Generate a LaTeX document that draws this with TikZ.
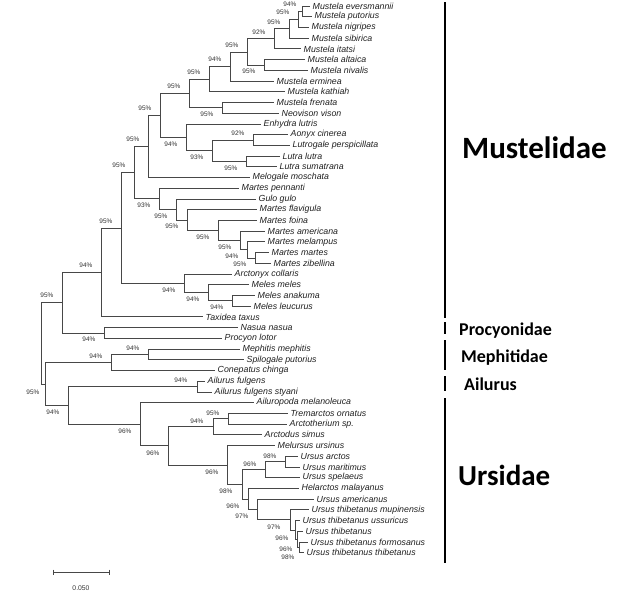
\documentclass[tikz,border=0pt]{standalone}
\usepackage{fontspec}
\setmainfont{Liberation Sans}
\newfontfamily\grpfont{Carlito}
\usetikzlibrary{calc}
\begin{document}
\begin{tikzpicture}[x=1pt,y=-1pt,
  br/.style={draw=black!72, line width=0.8pt},
  leaf/.style={anchor=west, inner xsep=2.5pt, inner ysep=0pt, font=\fontsize{8.8}{10}\selectfont\itshape, text=black!88},
  bs/.style={inner sep=0pt, font=\fontsize{6.5}{7}\selectfont, text=black!80},
  grp/.style={anchor=base west, inner sep=0pt, text=black},
  grpbar/.style={line width=2pt, draw=black}]
\useasboundingbox (0,0) rectangle (640,592);
% leaves
\foreach \i/\x/\nm in {
 1/310/Mustela eversmannii, 2/312/Mustela putorius, 3/309/Mustela nigripes,
 4/309/Mustela sibirica, 5/301/Mustela itatsi, 6/305/Mustela altaica,
 7/308/Mustela nivalis, 8/274/Mustela erminea, 9/285/Mustela kathiah,
 10/274/Mustela frenata, 11/279/Neovison vison, 12/261/Enhydra lutris,
 13/288/Aonyx cinerea, 14/290/Lutrogale perspicillata, 15/280/Lutra lutra,
 16/277/Lutra sumatrana, 17/250/Melogale moschata, 18/239/Martes pennanti,
 19/256/Gulo gulo, 20/257/Martes flavigula, 21/257/Martes foina,
 22/265/Martes americana, 23/265/Martes melampus, 24/269/Martes martes,
 25/271/Martes zibellina, 26/232/Arctonyx collaris, 27/249/Meles meles,
 28/255/Meles anakuma, 29/251/Meles leucurus, 30/203/Taxidea taxus,
 31/238/Nasua nasua, 32/222/Procyon lotor, 33/240/Mephitis mephitis,
 34/244/Spilogale putorius, 35/215/Conepatus chinga, 36/205/Ailurus fulgens,
 37/212/Ailurus fulgens styani, 38/254/Ailuropoda melanoleuca,
 39/288/Tremarctos ornatus, 40/287/Arctotherium sp., 41/262/Arctodus simus,
 42/275/Melursus ursinus, 43/298/Ursus arctos, 44/300/Ursus maritimus,
 45/300/Ursus spelaeus, 46/299/Helarctos malayanus, 47/314/Ursus americanus,
 48/309/Ursus thibetanus mupinensis, 49/300/Ursus thibetanus ussuricus,
 50/303/Ursus thibetanus, 51/308/Ursus thibetanus formosanus,
 52/304/Ursus thibetanus thibetanus}{
  \pgfmathsetmacro\yy{6+(\i-1)*10.72}
  \coordinate (l\i) at (\x,\yy);
  \node[leaf] (t\i) at (l\i) {\nm};
}
% internal nodes
\foreach \n/\x/\y in {
 M1/302/11.36, M2/298/19.40, M3/289/28.78, M4/274/38.83, B/264/64.96,
 M5/247/51.90, M6/230/66.47, M7/209/79.12, C/222/107.84, M8/189/93.48,
 E1/253/140.00, E2/246/161.44, E3/212/150.72, L/186/137.32, M9/160/115.40,
 M10/148/146.46, K1/255/257.92, K2/247/249.88, K3/240/240.50, K4/218/230.45,
 K5/187/220.07, K6/176/209.51, K7/159/198.88, M11/134/172.67,
 D1/232/300.80, D2/208/292.76, D3/184/283.38, M12/121/228.03, M13/101/272.45,
 P/104/332.96, N1/62/302.71, Ph1/148/354.40, Ph2/111/362.44, A/197/386.56,
 T/228/418.72, Us/213/426.76, AP/285/461.60, GA/265/469.64,
 TB4/299/547.36, TB3/297/539.32, TB2/295/529.94, TB/290/519.89,
 H2/257/509.51, GR/248/498.96, G/242/484.30, UB/227/464.91, UR/168/445.84,
 U0/140/424.24, Y/68/405.40, X/45/383.92, R/41/343.32}{
  \coordinate (\n) at (\x,\y);
}
% branches
\foreach \p/\a/\b in {
 M1/l1/l2, M2/M1/l3, M3/M2/l4, M4/M3/l5, B/l6/l7, M5/M4/B, M6/M5/l8,
 M7/M6/l9, C/l10/l11, M8/M7/C, E1/l13/l14, E2/l15/l16, E3/E1/E2, L/l12/E3,
 M9/M8/L, M10/M9/l17, K1/l24/l25, K2/l23/K1, K3/l22/K2, K4/l21/K3,
 K5/l20/K4, K6/l19/K5, K7/l18/K6, M11/M10/K7, D1/l28/l29, D2/l27/D1,
 D3/l26/D2, M12/M11/D3, M13/M12/l30, P/l31/l32, N1/M13/P, Ph1/l33/l34,
 Ph2/Ph1/l35, A/l36/l37, T/l39/l40, Us/T/l41, AP/l43/l44, GA/AP/l45,
 TB4/l51/l52, TB3/l50/TB4, TB2/l49/TB3, TB/l48/TB2, H2/l47/TB, GR/l46/H2,
 G/GA/GR, UB/l42/G, UR/Us/UB, U0/l38/UR, Y/A/U0, X/Ph2/Y, R/N1/X}{
  \draw[br] (\p) |- (\a);
  \draw[br] (\p) |- (\b);
}
% bootstrap values
\foreach \n/\dx/\dy/\v in {
 M1/-12/-7/94, M2/-15/-7/95, M3/-15/-7/95, M4/-15/-7/92, B/-15/6.5/95,
 M5/-15/-7/95, M6/-15/-7/94, M7/-15/-7/95, C/-15/6.5/95, M8/-15/-7/95,
 E1/-15/-7/92, E2/-15/6.5/95, E3/-15/6.5/93, L/-15/6.5/94, M9/-15/-7/95,
 M10/-15/-7/95, K1/-15/6.5/95, K2/-15/6.5/94, K3/-15/6.5/95, K4/-15/6.5/95,
 K5/-15/6.5/95, K6/-15/6.5/95, K7/-15/6.5/93, M11/-15/-7/95,
 D1/-15/6.5/94, D2/-15/6.5/94, D3/-15/6.5/94, M12/-15/-7/95, M13/-15/-7/94,
 P/-15/6.5/94, N1/-15/-7/95, Ph1/-15/-6/94, Ph2/-15/-6/94, A/-16/-6/94,
 X/-12/8/95, Y/-15/7/94, U0/-15/7/96, UR/-15/7/96, Us/-16/-6/94,
 T/-15/-5/95, UB/-15/7/96, G/-16/7/98, AP/-15/-5/98, GA/-15/-5/96,
 GR/-15/7/96, H2/-15/7/97, TB/-16/7/97, TB2/-13/8/96, TB3/-11/10/96,
 TB4/-11/10/98}{
  \node[bs] (b\n) at ($(\n)+(\dx,\dy)$) {\v\%};
}
% group bars
\coordinate (mu1) at (445,2);   \coordinate (mu2) at (445,318);
\coordinate (pr1) at (445,322); \coordinate (pr2) at (445,334);
\coordinate (me1) at (445,340); \coordinate (me2) at (445,370);
\coordinate (ai1) at (445,376); \coordinate (ai2) at (445,391);
\coordinate (ur1) at (445,398); \coordinate (ur2) at (445,563);
\draw[grpbar] (mu1) -- (mu2);
\draw[grpbar] (pr1) -- (pr2);
\draw[grpbar] (me1) -- (me2);
\draw[grpbar] (ai1) -- (ai2);
\draw[grpbar] (ur1) -- (ur2);
\node[grp, font=\grpfont\bfseries\fontsize{31}{31}\selectfont] (gMu) at (462,158) {Mustelidae};
\node[grp, font=\grpfont\bfseries\fontsize{18}{18}\selectfont] (gPr) at (459,335) {Procyonidae};
\node[grp, font=\grpfont\bfseries\fontsize{18}{18}\selectfont] (gMe) at (461,362) {Mephitidae};
\node[grp, font=\grpfont\bfseries\fontsize{18}{18}\selectfont] (gAi) at (464,390) {Ailurus};
\node[grp, font=\grpfont\bfseries\fontsize{29}{29}\selectfont] (gUr) at (458,485) {Ursidae};
% scale bar
\coordinate (s1) at (53,572); \coordinate (s2) at (109,572);
\coordinate (s1a) at (53,569.5); \coordinate (s1b) at (53,574.5);
\coordinate (s2a) at (109,569.5); \coordinate (s2b) at (109,574.5);
\draw[br] (s1) -- (s2);
\draw[br] (s1a) -- (s1b);
\draw[br] (s2a) -- (s2b);
\node[bs, font=\fontsize{6.8}{8}\selectfont] (sl) at (81,588) {0.050};
\end{tikzpicture}
\end{document}
